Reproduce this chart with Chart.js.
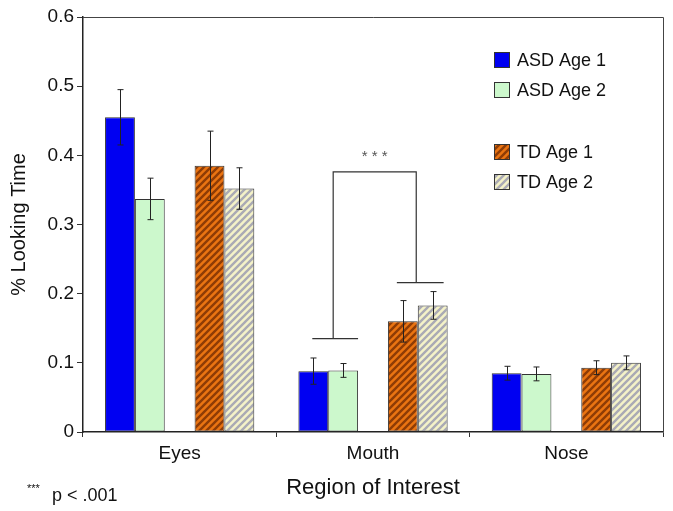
<!DOCTYPE html>
<html>
<head>
<meta charset="utf-8">
<script src="https://cdn.jsdelivr.net/npm/chart.js@4.4.0/dist/chart.umd.min.js"></script>
<style>
  body { margin: 0; background: #fff; }
  #wrap { width: 673px; height: 511px; }
</style>
</head>
<body>
<div id="wrap"><canvas id="mycanvas" width="673" height="511"></canvas></div>
<script>
var regions = ['Eyes', 'Mouth', 'Nose'];
var groupNames = ['ASD Age 1', 'ASD Age 2', '', 'TD Age 1', 'TD Age 2'];

var asdAge1 = [0.455, 0.088, 0.085];
var asdAge2 = [0.337, 0.089, 0.084];
var tdAge1 = [0.385, 0.160, 0.093];
var tdAge2 = [0.352, 0.183, 0.100];

var asdAge1Err = [0.040, 0.019, 0.010];
var asdAge2Err = [0.030, 0.010, 0.010];
var tdAge1Err = [0.050, 0.030, 0.010];
var tdAge2Err = [0.030, 0.020, 0.010];

// significance bracket on Mouth: ASD level, TD level, top
var bracketLevels = [0.135, 0.216, 0.376];

function hatch(bg, fg) {
	var c = document.createElement('canvas');
	c.width = 7; c.height = 7;
	var x = c.getContext('2d');
	x.fillStyle = bg;
	x.fillRect(0, 0, 7, 7);
	x.strokeStyle = fg;
	x.lineWidth = 2.4;
	x.beginPath();
	for (var k = -7; k <= 7; k += 7) {
		x.moveTo(k - 1, 8);
		x.lineTo(k + 8, -1);
	}
	x.stroke();
	return x.createPattern(c, 'repeat');
}

var ctx = document.getElementById('mycanvas').getContext('2d');
var orangeHatch = hatch('#ea7412', '#8e3c06');
var greyHatch = hatch('#f4f2c8', '#aaaab4');

var fills = ['#0000f2', '#ccf8cc', 'rgba(0,0,0,0)', orangeHatch, greyHatch];
var errs = [asdAge1Err, asdAge2Err, null, tdAge1Err, tdAge2Err];
var FONT = "'Liberation Sans', Arial, sans-serif";

var errorBars = {
	id: 'errorBars',
	afterDatasetsDraw: function(chart) {
		var c = chart.ctx, y = chart.scales.y;
		c.save();
		c.strokeStyle = '#222';
		c.lineWidth = 1;
		chart.data.datasets.forEach(function(ds, i) {
			if (!errs[i]) return;
			var meta = chart.getDatasetMeta(i);
			meta.data.forEach(function(bar, j) {
				var v = ds.data[j], e = errs[i][j];
				var top = y.getPixelForValue(v + e), bot = y.getPixelForValue(v - e);
				var x = Math.round(bar.x) + 0.5;
				c.beginPath();
				c.moveTo(x, top); c.lineTo(x, bot);
				c.moveTo(x - 3, top); c.lineTo(x + 3, top);
				c.moveTo(x - 3, bot); c.lineTo(x + 3, bot);
				c.stroke();
			});
		});
		c.restore();
	}
};

var extras = {
	id: 'extras',
	afterDraw: function(chart) {
		var c = chart.ctx, y = chart.scales.y, a = chart.chartArea;
		c.save();
		// frame top and right
		c.strokeStyle = '#444';
		c.lineWidth = 1;
		c.beginPath();
		c.moveTo(a.left, a.top + 0.5); c.lineTo(a.right + 0.5, a.top + 0.5);
		c.lineTo(a.right + 0.5, a.bottom);
		c.stroke();

		// bracket
		var b0 = chart.getDatasetMeta(0).data[1], b1 = chart.getDatasetMeta(1).data[1];
		var b3 = chart.getDatasetMeta(3).data[1], b4 = chart.getDatasetMeta(4).data[1];
		var yA = y.getPixelForValue(bracketLevels[0]);
		var yT = y.getPixelForValue(bracketLevels[1]);
		var yTop = y.getPixelForValue(bracketLevels[2]);
		var aL = b0.x - 1, aR = b1.x + b1.width / 2;
		var tL = b3.x - 6, tR = b4.x + b4.width / 2 - 4;
		var aM = (aL + aR) / 2 - 2, tM = (tL + tR) / 2 - 4;
		c.strokeStyle = '#333';
		c.lineWidth = 1.2;
		c.beginPath();
		c.moveTo(aL, yA); c.lineTo(aR, yA);
		c.moveTo(aM, yA); c.lineTo(aM, yTop); c.lineTo(tM, yTop); c.lineTo(tM, yT);
		c.moveTo(tL, yT); c.lineTo(tR, yT);
		c.stroke();
		c.fillStyle = '#555';
		c.font = '15px ' + FONT;
		c.textAlign = 'center';
		c.textBaseline = 'middle';
		c.fillText('* * *', (aM + tM) / 2, yTop - 15);

		// legend
		var rows = [60, 90, 152, 182];
		var idx = [0, 1, 3, 4];
		c.textAlign = 'left';
		c.font = '18px ' + FONT;
		idx.forEach(function(k, r) {
			var cy = rows[r];
			c.fillStyle = fills[k];
			c.fillRect(494, cy - 8, 16, 16);
			c.strokeStyle = '#333';
			c.lineWidth = 1;
			c.strokeRect(494.5, cy - 7.5, 15, 15);
			c.fillStyle = '#111';
			c.fillText(groupNames[k], 517, cy + 1);
		});

		// footnote
		c.font = '11px ' + FONT;
		c.fillText('***', 27, 489);
		c.font = '18px ' + FONT;
		c.textBaseline = 'alphabetic';
		c.fillText('p < .001', 52, 501);
		c.restore();
	}
};

var data0 = [asdAge1, asdAge2, [null, null, null], tdAge1, tdAge2];

var barGraph = new Chart(ctx, {
	type: 'bar',
	data: {
		labels: regions,
		datasets: data0.map(function(d, i) {
			return {
				label: groupNames[i],
				data: d,
				backgroundColor: fills[i],
				borderColor: '#333',
				borderWidth: i === 2 ? 0 : 1,
				borderSkipped: false,
				categoryPercentage: 0.772,
				barPercentage: 1.0
			};
		})
	},
	options: {
		responsive: false,
		animation: false,
		layout: { padding: { top: 17, right: 10, left: 0, bottom: 0 } },
		plugins: {
			legend: { display: false },
			tooltip: { enabled: false }
		},
		scales: {
			x: {
				afterFit: function(s) { s.height = 79; },
				grid: { drawOnChartArea: false, drawTicks: true, tickLength: 5, color: '#333' },
				border: { color: '#222', width: 1.5 },
				ticks: { color: '#111', font: { family: FONT, size: 19 }, padding: 5 },
				title: { display: true, text: 'Region of Interest', color: '#111', font: { family: FONT, size: 22 }, padding: { top: 0, bottom: 10 } }
			},
			y: {
				min: 0,
				max: 0.6,
				afterFit: function(s) { s.width = 83; },
				grid: { drawOnChartArea: false, drawTicks: true, tickLength: 6, color: '#333' },
				border: { color: '#222', width: 1.5 },
				ticks: { stepSize: 0.1, color: '#111', font: { family: FONT, size: 19 }, padding: 3 },
				title: { display: true, text: '% Looking Time', color: '#111', font: { family: FONT, size: 20 }, padding: { top: 7, bottom: 0 } }
			}
		}
	},
	plugins: [errorBars, extras]
});
</script>
</body>
</html>
